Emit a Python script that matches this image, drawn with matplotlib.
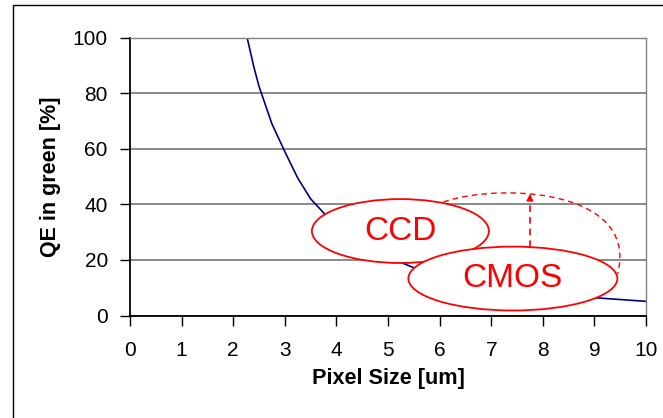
import numpy as np
import matplotlib
matplotlib.use('Agg')
import matplotlib.pyplot as plt
from matplotlib.patches import Ellipse, Rectangle, PathPatch
from matplotlib.path import Path

plt.rcParams['font.family'] = ['Liberation Sans', 'DejaVu Sans']

# ── data ──────────────────────────────────────────────────────────────────
pixel_size = [2.27, 2.4, 2.5, 2.75, 3.0, 3.25, 3.5, 3.75, 4.0, 4.5, 5.0, 5.5, 6.0, 7.0, 8.0, 9.0, 10.0]
qe_green   = [100, 89.5, 82.5, 69, 59, 49.5, 42, 37, 32.5, 26, 21, 17.2, 14.5, 10.6, 8.1, 6.4, 5.1]

x_ticks = list(range(0, 11))
y_ticks = [0, 20, 40, 60, 80, 100]

# annotation shapes (data coordinates)
ccd_center,  ccd_size  = (5.24, 30.4), (3.43, 23.0)
cmos_center, cmos_size = (7.42, 13.3), (4.05, 23.0)
arc_ctrl = [(5.9, 39.5), (6.8, 48.0), (9.9, 47.5), (9.45, 15.0)]
arrow_x, arrow_y0, arrow_y1 = 7.75, 24.8, 44.8

RED = '#FF0000'

fig = plt.figure(figsize=(6.63, 4.18), dpi=100)
ax = fig.add_axes([130/663, 1 - 315.5/418, 516/663, 277.8/418])

# outer chart frame (cropped on right / bottom)
fig.patches.append(Rectangle((13/663, -0.1), 1.2, 1.1 - 5/418, transform=fig.transFigure,
                             fill=False, edgecolor='black', lw=1.0, zorder=0))

ax.plot(pixel_size, qe_green, color='#000080', lw=1.2, zorder=2)

ax.set_xlim(0, 10)
ax.set_ylim(0, 100)
ax.set_xticks(x_ticks)
ax.set_yticks(y_ticks)
ax.tick_params(axis='both', direction='out', length=7, width=1.0, labelsize=15)
ax.tick_params(axis='x', pad=11)
ax.tick_params(axis='y', pad=9)
ax.grid(True, axis='y', color='#808080', lw=1.3, zorder=1)
for s in ['left', 'bottom']:
    ax.spines[s].set_color('black')
    ax.spines[s].set_linewidth(1.3)
for s in ['top', 'right']:
    ax.spines[s].set_color('#808080')
    ax.spines[s].set_linewidth(1.0)

ax.set_xlabel('Pixel Size [um]', fontsize=15.6, fontweight='bold')
ax.set_ylabel('QE in green [%]', fontsize=15.5, fontweight='bold')
ax.xaxis.set_label_coords(0.5, -0.228)
ax.yaxis.set_label_coords(-0.154, 0.5)
ax.xaxis.label.set_verticalalignment('center')
ax.yaxis.label.set_verticalalignment('center')

# dashed arc + arrow (under ellipses)
arc = Path(arc_ctrl, [Path.MOVETO, Path.CURVE4, Path.CURVE4, Path.CURVE4])
ax.add_patch(PathPatch(arc, fill=False, edgecolor=RED, lw=1.0, ls=(0, (4, 3)),
                       zorder=3, clip_on=False))
ax.plot([arrow_x, arrow_x], [arrow_y0, arrow_y1 - 3], color=RED, lw=1.2,
        ls=(0, (4, 3)), zorder=3)
ax.annotate('', xy=(arrow_x, arrow_y1), xytext=(arrow_x, arrow_y1 - 3.5),
            arrowprops=dict(arrowstyle='-|>', color=RED, lw=1.0, mutation_scale=10),
            zorder=3)

ax.add_patch(Ellipse(ccd_center, *ccd_size, facecolor='white', edgecolor=RED,
                     lw=1.3, zorder=4))
ax.text(*ccd_center, 'CCD', color=RED, fontsize=24, ha='center', va='center', zorder=5)
ax.add_patch(Ellipse(cmos_center, *cmos_size, facecolor='white', edgecolor=RED,
                     lw=1.3, zorder=6, clip_on=False))
ax.text(*cmos_center, 'CMOS', color=RED, fontsize=24, ha='center', va='center', zorder=7)

fig.savefig('out.png', dpi=100)
